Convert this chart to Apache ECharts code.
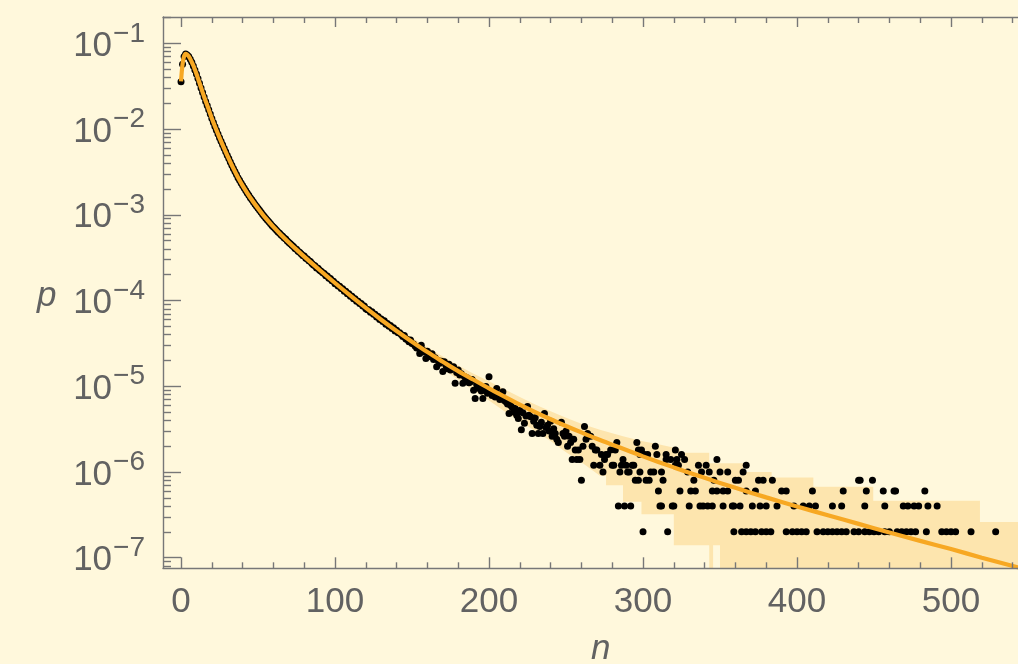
<!DOCTYPE html>
<html><head><meta charset="utf-8">
<script src="https://cdn.jsdelivr.net/npm/echarts@6/dist/echarts.min.js"></script>
<style>html,body{margin:0;padding:0;background:#fff8dc}#c{width:1018px;height:664px}</style>
</head><body><div id="c"></div>
<script>
// ---- tick definitions ----
const xMajor = [0, 100, 200, 300, 400, 500];
const xMinor = [20, 40, 60, 80, 120, 140, 160, 180, 220, 240, 260, 280, 320, 340, 360, 380, 420, 440, 460, 480, 520, 540];
const yExps = [-7, -6, -5, -4, -3, -2, -1];
const yMinorMant = [2, 3, 4, 5, 6, 7, 8, 9];

// ---- model curve (orange) ----
const curveN = [0,1,2,3,4,5,6,7,8,9,10,11,12,13,14,15,16,18,20,22,25,28,31,34,37,40,45,50,55,60,65,70,75,80,90,100,110,120,130,140,150,160,170,180,190,200,210,220,230,240,250,260,270,280,290,300,320,340,360,380,400,420,440,460,480,500,520,545];
const curveP = [0.0360,0.0575,0.0708,0.0755,0.0738,0.0705,0.0658,0.0605,0.0550,0.0494,0.0442,0.0391,0.0345,0.0305,0.0269,0.0238,0.0212,0.0169,0.01334,0.01076,0.00794,0.00596,0.00452,0.00347,0.00272,0.00219,0.00158,0.00119,9.12e-4,7.21e-4,5.82e-4,4.76e-4,3.92e-4,3.25e-4,2.27e-4,1.60e-4,1.14e-4,8.20e-5,5.97e-5,4.41e-5,3.30e-5,2.50e-5,1.93e-5,1.50e-5,1.19e-5,9.44e-6,7.57e-6,6.11e-6,4.99e-6,4.12e-6,3.44e-6,2.89e-6,2.44e-6,2.08e-6,1.78e-6,1.52e-6,1.13e-6,8.53e-7,6.52e-7,5.05e-7,3.95e-7,3.13e-7,2.48e-7,1.97e-7,1.57e-7,1.26e-7,1.00e-7,7.57e-8];

// ---- measured points (black), n = 0..154 ----
const headP = [3.55e-2,5.7e-2,7.0e-2,7.5e-2,7.3e-2,7.0e-2,6.5e-2,6.0e-2,5.45e-2,4.9e-2,
4.38e-2,3.88e-2,3.42e-2,3.02e-2,2.66e-2,2.36e-2,2.1e-2,1.88e-2,1.68e-2,1.5e-2,
1.33e-2,1.19e-2,1.07e-2,9.68e-3,8.78e-3,7.92e-3,7.22e-3,6.55e-3,5.96e-3,5.43e-3,
4.95e-3,4.52e-3,4.12e-3,3.79e-3,3.46e-3,3.2e-3,2.95e-3,2.71e-3,2.53e-3,2.35e-3,
2.19e-3,2.05e-3,1.92e-3,1.8e-3,1.69e-3,1.58e-3,1.5e-3,1.41e-3,1.33e-3,1.26e-3,
1.19e-3,1.13e-3,1.07e-3,1.01e-3,9.6e-4,9.1e-4,8.7e-4,8.3e-4,7.9e-4,7.5e-4,
7.2e-4,6.9e-4,6.6e-4,6.3e-4,6.1e-4,5.8e-4,5.6e-4,5.35e-4,5.2e-4,4.95e-4,
4.75e-4,4.6e-4,4.4e-4,4.25e-4,4.05e-4,3.95e-4,3.75e-4,3.65e-4,3.5e-4,3.35e-4,
3.3e-4,3.1e-4,3.05e-4,2.9e-4,2.85e-4,2.7e-4,2.6e-4,2.55e-4,2.4e-4,2.38e-4,
2.25e-4,2.2e-4,2.1e-4,2.07e-4,1.95e-4,1.93e-4,1.82e-4,1.8e-4,1.7e-4,1.68e-4,
1.57e-4,1.56e-4,1.48e-4,1.47e-4,1.38e-4,1.37e-4,1.28e-4,1.28e-4,1.2e-4,1.2e-4,
1.12e-4,1.12e-4,1.05e-4,1.05e-4,9.8e-5,9.8e-5,9.2e-5,9.2e-5,8.6e-5,8.6e-5,
8.0e-5,7.8e-5,7.8e-5,7.3e-5,7.4e-5,6.9e-5,6.9e-5,6.4e-5,6.5e-5,6.0e-5,
6.1e-5,5.7e-5,5.8e-5,5.3e-5,5.4e-5,5.0e-5,5.1e-5,4.7e-5,4.8e-5,4.4e-5,
4.5e-5,4.2e-5,4.2e-5,4.0e-5,3.8e-5,3.9e-5,3.55e-5,3.5e-5,3.3e-5,3.45e-5,
3.15e-5,3.1e-5,2.95e-5,2.8e-5,2.85e-5];

// ---- measured points, n = 155..323 as [n, p] ----
const midDots = [[155,2.41e-5],[156,3.0e-5],[157,2.65e-5],[158,2.5e-5],[159,2.11e-5],[160,2.55e-5],[161,2.35e-5],[162,2.2e-5],[163,2.4e-5],[164,2.05e-5],[165,2.15e-5],[166,1.69e-5],[167,2.0e-5],[168,1.85e-5],[169,1.95e-5],[170,1.48e-5],[171,1.93e-5],[172,1.75e-5],[173,1.6e-5],[174,1.8e-5],[175,1.55e-5],[176,1.65e-5],[177,1.69e-5],[178,1.08e-5],[179,1.45e-5],[180,1.55e-5],[181,1.35e-5],[182,1.4e-5],[183,1.08e-5],[184,1.3e-5],[185,1.2e-5],[186,1.25e-5],[187,1.1e-5],[188,1.13e-5],[189,1.2e-5],[190,9.0e-6],[191,7.2e-6],[192,1.05e-5],[193,9.5e-6],[194,1.0e-5],[195,8.8e-6],[196,7.2e-6],[197,9.2e-6],[198,9.9e-6],[199,8.3e-6],[200,1.29e-5],[201,8.5e-6],[202,7.8e-6],[203,8.0e-6],[204,7.5e-6],[205,9.4e-6],[206,7.9e-6],[207,7.0e-6],[208,7.3e-6],[209,8.6e-6],[210,6.8e-6],[211,6.6e-6],[212,6.2e-6],[213,4.8e-6],[214,6.0e-6],[215,5.7e-6],[216,5.0e-6],[217,5.5e-6],[218,4.6e-6],[219,4.2e-6],[220,5.2e-6],[221,3.1e-6],[222,4.9e-6],[223,3.7e-6],[224,4.5e-6],[225,5.8e-6],[226,4.6e-6],[227,4.4e-6],[228,2.8e-6],[229,3.9e-6],[230,4.3e-6],[231,3.5e-6],[232,2.8e-6],[233,3.4e-6],[234,3.8e-6],[235,2.8e-6],[236,4.8e-6],[237,3.3e-6],[238,3.5e-6],[239,3.0e-6],[240,3.9e-6],[241,2.6e-6],[242,3.2e-6],[243,2.8e-6],[244,2.4e-6],[245,2.2e-6],[247,3.8e-6],[248,2.8e-6],[249,2.6e-6],[250,3.0e-6],[251,2.0e-6],[252,2.6e-6],[253,2.2e-6],[254,1.4e-6],[255,2.4e-6],[256,1.8e-6],[257,1.4e-6],[258,1.8e-6],[259,1.4e-6],[260,8e-7],[261,2.0e-6],[262,3.4e-6],[263,2.4e-6],[264,2.8e-6],[266,2.6e-6],[267,2.0e-6],[268,1.2e-6],[269,1.8e-6],[270,1.8e-6],[272,1.2e-6],[273,1.6e-6],[274,1.0e-6],[275,1.4e-6],[276,1.6e-6],[277,1.6e-6],[279,1.8e-6],[280,1.2e-6],[281,1.2e-6],[282,1.8e-6],[283,2.2e-6],[284,4e-7],[285,1.0e-6],[286,1.2e-6],[287,1.4e-6],[288,4e-7],[289,1.2e-6],[290,1.0e-6],[291,1.0e-6],[292,4e-7],[293,1.2e-6],[294,1.2e-6],[295,8e-7],[296,2.2e-6],[297,1.8e-6],[297,8e-7],[298,1.0e-6],[298,1.6e-6],[299,1.8e-6],[300,2e-7],[301,1.6e-6],[302,8e-7],[303,1.6e-6],[304,8e-7],[305,1.0e-6],[307,1.0e-6],[308,2.0e-6],[309,1.6e-6],[310,6e-7],[311,4e-7],[312,1.0e-6],[312,4e-7],[313,8e-7],[315,1.6e-6],[315,1.4e-6],[316,2e-7],[318,1.4e-6],[319,4e-7],[320,4e-7],[321,1.2e-6],[321,1.8e-6],[322,1.2e-6],[322,1.4e-6],[323,1.2e-6]];

// ---- measured points, n >= 324, grouped by level p ----
const tailN_1p6e6 = [325];
const tailN_1p4e6 = [327, 348];
const tailN_1p2e6 = [336, 341, 367];
const tailN_1p0e6 = [329, 338, 343, 350, 355, 365];
const tailN_8e7 = [333, 346, 360, 362, 375, 378, 384, 440, 441, 449];
const tailN_6e7 = [324, 331, 334, 345, 348, 352, 355, 367, 373, 390, 393, 410, 430, 445, 456, 463, 464, 483];
const tailN_4e7 = [330, 337, 339, 342, 345, 352, 358, 359, 363, 371, 376, 380, 387, 398, 404, 408, 412, 423, 429, 444, 457, 469, 472, 476, 479, 485, 491];
const tailN_2e7 = [359, 364, 367, 370, 373, 377, 380, 383, 393, 397, 400, 403, 406, 413, 417, 420, 423, 426, 429, 432, 437, 440, 444, 447, 450, 453, 457, 460, 465, 468, 471, 474, 477, 484, 494, 497, 500, 503, 513, 529];

// ---- confidence band outline (vertices; repeated n = vertical step) ----
const bandUpN = [125,    140,    150,   160,    170,    180,    190,   200,    210,   220,   230,   240,   250,   260,    272,   287,   299,   310,   324,    324,    343,    343,    365,    365,   383.5, 383.5,  410.6,  410.6,  449.5,  449.5,  518.8,  518.8,  545];
const bandUpP = [6.3e-5, 4.85e-5,3.7e-5,2.85e-5,2.22e-5,1.75e-5,1.4e-5,1.14e-5,9.2e-6,7.5e-6,6.1e-6,5.1e-6,4.3e-6,3.65e-6,3.1e-6,2.6e-6,2.3e-6,2.1e-6,1.85e-6,1.68e-6,1.68e-6,1.26e-6,1.26e-6,1.0e-6,1.0e-6, 8.6e-7, 8.6e-7, 6.7e-7, 6.7e-7, 4.6e-7, 4.6e-7, 2.6e-7, 2.6e-7];
const bandLoN = [121,    125,    140,   150,   160,    170,    180,    190,   200,   210,   220,   230,   240,   250,   260,   272,   276,   276,   287,   287,   299,   299,   320,   320,   343,   343, 345.5, 345.5, 350,   350, 545];
const bandLoP = [6.3e-5, 6.3e-5, 4.0e-5,2.9e-5,2.15e-5,1.58e-5,1.19e-5,9.0e-6,6.8e-6,5.1e-6,3.9e-6,3.0e-6,2.3e-6,1.7e-6,1.3e-6,9.0e-7,9.0e-7,7.0e-7,7.0e-7,4.5e-7,4.5e-7,3.2e-7,3.2e-7,1.4e-7,1.4e-7,0,   0,     1.4e-7,1.4e-7,0,   0];

// ---- build ----
const L = v => (v > 0 ? Math.log10(v) : -9);
const BG = '#fff8dc', AX = '#777777', LAB = '#626262', ORANGE = '#f7a823', BAND = '#fde5ae';
const FONT = 'Liberation Sans';

const dots = [];
headP.forEach((p, n) => dots.push([n, L(p)]));
midDots.forEach(d => dots.push([d[0], L(d[1])]));
[[tailN_1p6e6,1.6e-6],[tailN_1p4e6,1.4e-6],[tailN_1p2e6,1.2e-6],[tailN_1p0e6,1.0e-6],[tailN_8e7,8e-7],[tailN_6e7,6e-7],[tailN_4e7,4e-7],[tailN_2e7,2e-7]]
  .forEach(([arr, p]) => arr.forEach(n => dots.push([n, L(p)])));

const yMinorVals = [];
for (let k = -8; k <= -1; k++) yMinorMant.forEach(m => { const v = k + Math.log10(m); if (v > -7.124 && v < -0.693) yMinorVals.push(v); });

const XMIN = -11.7, XMAX = 543.5, YMIN = -7.124, YMAX = -0.693;
const tickStyle = { color: AX, width: 1.4 };
function xAx(pos, vals, len, line, labels) {
  return { type: 'value', min: XMIN, max: XMAX, position: pos, z: 10,
    axisLine: { show: line, onZero: false, lineStyle: tickStyle },
    axisTick: { show: true, inside: true, length: len, customValues: vals, lineStyle: tickStyle },
    axisLabel: labels ? { show: true, customValues: vals, margin: 17, fontSize: 35, color: LAB, fontFamily: FONT } : { show: false },
    splitLine: { show: false } };
}
function yAx(vals, len, line, labels) {
  return { type: 'value', min: YMIN, max: YMAX, position: 'left', z: 10,
    axisLine: { show: line, onZero: false, lineStyle: tickStyle },
    axisTick: { show: true, inside: true, length: len, customValues: vals, lineStyle: tickStyle },
    axisLabel: labels ? { show: true, customValues: vals, margin: 18, color: LAB, fontFamily: FONT,
      formatter: v => '{a|10}{b|\u2212' + (-Math.round(v)) + '}',
      rich: { a: { fontSize: 35, fontFamily: FONT, color: LAB, padding: [6, 0, 0, 0] },
              b: { fontSize: 28, fontFamily: FONT, color: LAB, padding: [0, 0, 19, 1] } } } : { show: false },
    splitLine: { show: false } };
}

const chart = echarts.init(document.getElementById('c'), null, { renderer: 'canvas' });
chart.setOption({
  backgroundColor: BG,
  animation: false,
  grid: { left: 163, right: 0, top: 17, bottom: 95.7, containLabel: false },
  xAxis: [ xAx('bottom', xMajor, 11, true, true), xAx('bottom', xMinor, 6, false, false),
           xAx('top', xMajor, 10, true, false), xAx('top', xMinor, 6, false, false) ],
  yAxis: [ yAx(yExps, 18, true, true), yAx(yMinorVals, 8, false, false) ],
  graphic: [
    { type: 'text', left: 37, top: 279, style: { text: 'p', font: 'italic 35px "Liberation Sans"', fill: LAB } },
    { type: 'text', left: 591, top: 632, style: { text: 'n', font: 'italic 35px "Liberation Sans"', fill: LAB } }
  ],
  series: [
    { type: 'line', name: 'bandHigh', symbol: 'none', silent: true, clip: true,
      lineStyle: { width: 0, opacity: 0 }, areaStyle: { color: BAND, opacity: 1, origin: 'start' },
      data: bandUpN.map((n, i) => [n, L(bandUpP[i])]), z: 1 },
    { type: 'line', name: 'bandLow', symbol: 'none', silent: true, clip: true,
      lineStyle: { width: 0, opacity: 0 }, areaStyle: { color: BG, opacity: 1, origin: 'start' },
      data: bandLoN.map((n, i) => [n, L(bandLoP[i])]), z: 2 },
    { type: 'scatter', name: 'data', symbol: 'circle', symbolSize: 7, silent: true,
      itemStyle: { color: '#000000', opacity: 1 }, data: dots, z: 3 },
    { type: 'line', name: 'model', smooth: 0.35, symbol: 'none', silent: true,
      lineStyle: { color: ORANGE, width: 4.2 }, data: curveN.map((n, i) => [n, L(curveP[i])]), z: 4 }
  ]
});
</script></body></html>
